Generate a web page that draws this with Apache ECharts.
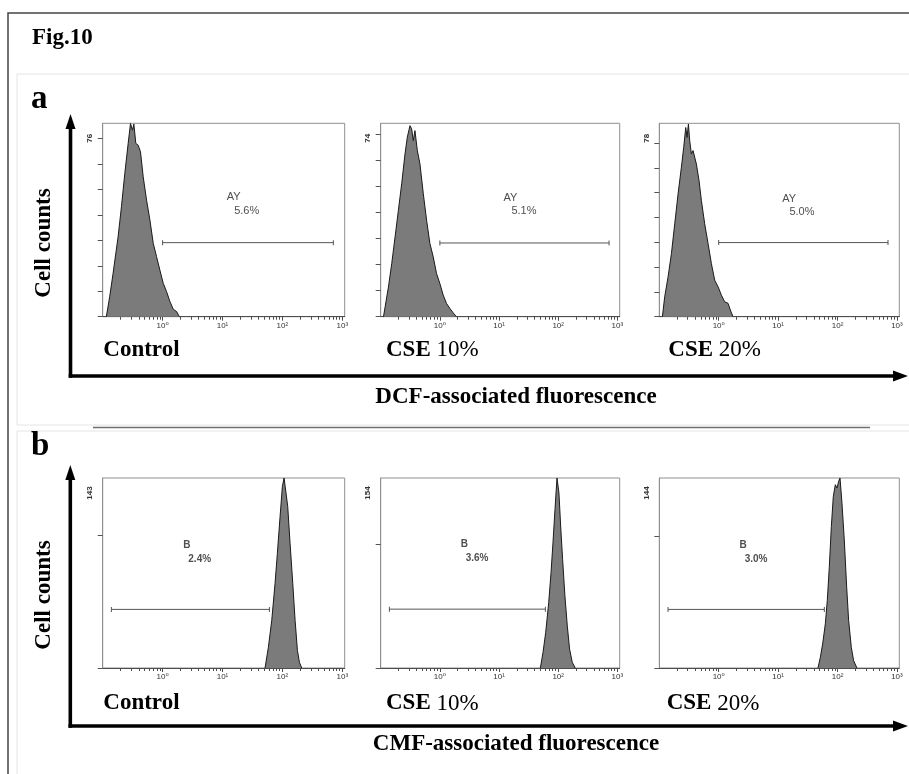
<!DOCTYPE html>
<html><head><meta charset="utf-8">
<script src="https://cdn.jsdelivr.net/npm/echarts@6/dist/echarts.min.js"></script>
<style>html,body{margin:0;padding:0;background:#fff}#c{width:909px;height:774px}</style>
</head><body><div id="c"></div>
<script>
// ---------- DATA (x values are log10 of fluorescence intensity) ----------
const figTitle = 'Fig.10';
const panelLetters = ['a', 'b'];
const yAxisTitle = 'Cell counts';
const xAxisTitles = ['DCF-associated fluorescence', 'CMF-associated fluorescence'];
const panelNames = ['Control', 'CSE 10%', 'CSE 20%'];
const decadeTicks = [0, 1, 2, 3];
const decadeLabels = ['10⁰', '10¹', '10²', '10³'];
const yMaxLabels = [[76, 74, 78], [143, 154, 144]];
const yTickSteps = [10, 100];
const gateNames = ['AY', 'B'];
const gatePercents = [['5.6%', '5.1%', '5.0%'], ['2.4%', '3.6%', '3.0%']];

const dcfControlLog = [-0.939,-0.883,-0.827,-0.743,-0.687,-0.631,-0.575,-0.536,-0.503,-0.480,-0.447,-0.408,-0.369,-0.324,-0.268,-0.212,-0.156,-0.101,-0.045,0.011,0.067,0.123,0.179,0.235,0.279];
const dcfControlCount = [0,7.9,17.0,31.4,43.2,56.3,68.1,75.9,73.3,75.7,68.1,67.4,64.8,55.0,45.8,38.0,28.8,23.6,18.3,13.1,9.8,5.9,2.9,2.0,0];
const dcfCse10Log = [-0.953,-0.925,-0.869,-0.813,-0.757,-0.701,-0.645,-0.589,-0.550,-0.505,-0.477,-0.449,-0.421,-0.381,-0.337,-0.280,-0.224,-0.168,-0.112,-0.056,0,0.056,0.112,0.168,0.224,0.280];
const dcfCse10Count = [0,3.8,11.4,20.4,30.5,40.7,50.9,62.3,68.7,73.1,71.9,67.4,71.2,63.6,58.5,47.1,36.9,28.0,22.9,16.5,12.7,8.3,5.1,3.2,1.5,0];
const dcfCse20Log = [-0.948,-0.909,-0.852,-0.796,-0.740,-0.684,-0.628,-0.589,-0.555,-0.533,-0.510,-0.488,-0.460,-0.432,-0.376,-0.331,-0.292,-0.236,-0.179,-0.123,-0.067,-0.011,0.045,0.101,0.157,0.196,0.241];
const dcfCse20Count = [0,8.0,16.1,25.4,37.5,49.5,60.3,68.3,76.3,72.3,77.7,71.0,65.6,67.0,61.6,54.9,46.9,37.5,29.5,21.4,14.7,12.1,8.7,6.0,5.4,2.7,0];

const cmfControlLog = [1.710,1.766,1.822,1.877,1.916,1.961,2.000,2.028,2.061,2.089,2.128,2.173,2.212,2.251,2.284,2.323];
const cmfControlCount = [0,15.6,35.8,63.6,86.3,114.0,136.7,143,141.7,121.6,93.8,63.6,35.8,13.1,4.3,0];
const cmfCse10Log = [1.699,1.744,1.789,1.840,1.879,1.912,1.946,1.980,2.013,2.042,2.075,2.114,2.154,2.193,2.238,2.288];
const cmfCse10Count = [0,12.7,28.8,53.0,77.3,101.5,128.4,154,141.9,115.0,88.0,58.4,34.2,15.3,4.6,0];
const cmfCse20Log = [1.671,1.711,1.750,1.795,1.828,1.862,1.896,1.929,1.963,1.991,2.019,2.042,2.075,2.114,2.154,2.187,2.232,2.271,2.327];
const cmfCse20Count = [0,8.1,18.3,33.5,51.3,76.7,107.2,130.0,138.9,136.4,141.5,144,124.9,97.0,61.5,36.1,15.7,5.6,0];

// gate markers (log10 start/end, count level)
const dcfGateLog = [[0, 2.85], [0, 2.86], [0, 2.85]];
const dcfGateCount = [29.1, 28.2, 29.9];
const cmfGateLog = [[-0.855, 1.783], [-0.853, 1.784], [-0.853, 1.778]];
const cmfGateCount = [44.1, 47.7, 44.4];
// gate annotation anchors: [name, percent]
const dcfGateTextLog = [[1.07, 1.195], [1.077, 1.21], [1.07, 1.19]];
const dcfGateTextCount = [[46.9, 41.6], [45.5, 40.4], [47.6, 42.3]];
const cmfGateTextLog = [[0.345, 0.429], [0.353, 0.437], [0.348, 0.437]];
const cmfGateTextCount = [[92.6, 81.7], [100.2, 88.6], [93.2, 82.3]];

// ---------- LAYOUT ----------
const colLeft = [102.7, 380.7, 659.3];
const colWidth = [242, 239, 240];
const rowTop = [123.3, 478];
const rowHeight = [193.4, 190];
const xMin = -1, xMax = 3.04;
const sans = '"Liberation Sans", "DejaVu Sans", Arial, sans-serif';
const serif = '"Liberation Serif", "Times New Roman", serif';

const hist = [
  [[dcfControlLog, dcfControlCount], [dcfCse10Log, dcfCse10Count], [dcfCse20Log, dcfCse20Count]],
  [[cmfControlLog, cmfControlCount], [cmfCse10Log, cmfCse10Count], [cmfCse20Log, cmfCse20Count]]
];
const gateLog = [dcfGateLog, cmfGateLog], gateCount = [dcfGateCount, cmfGateCount];
const gTextLog = [dcfGateTextLog, cmfGateTextLog], gTextCount = [dcfGateTextCount, cmfGateTextCount];
const gateFont = [{size: 11, weight: 'normal'}, {size: 10, weight: 'bold'}];

const minorTicks = [];
for (let n = -1; n < 3; n++) for (let k = 2; k < 10; k++) minorTicks.push(n + Math.log10(k));

const grids = [], xAxes = [], yAxes = [], series = [];
for (let r = 0; r < 2; r++) {
  for (let c = 0; c < 3; c++) {
    const i = r * 3 + c;
    grids.push({left: colLeft[c], top: rowTop[r], width: colWidth[c], height: rowHeight[r],
      show: true, borderColor: '#8f8f8f', borderWidth: 1, containLabel: false});
    xAxes.push({gridIndex: i, type: 'value', min: xMin, max: xMax, position: 'bottom',
      axisLine: {onZero: false, lineStyle: {color: '#4d4d4d', width: 1}},
      axisTick: {customValues: decadeTicks, length: 4, lineStyle: {color: '#4d4d4d'}},
      axisLabel: {customValues: decadeTicks, fontSize: 8, color: '#333', margin: 5, fontFamily: sans,
        formatter: v => decadeLabels[decadeTicks.indexOf(Math.round(v))] || ''},
      splitLine: {show: false}});
    xAxes.push({gridIndex: i, type: 'value', min: xMin, max: xMax, position: 'bottom',
      axisLine: {show: false, onZero: false},
      axisTick: {customValues: minorTicks, length: 3, lineStyle: {color: '#4d4d4d'}},
      axisLabel: {show: false}, splitLine: {show: false}});
    const yMax = yMaxLabels[r][c];
    const ticks = [];
    for (let v = 0; v < yMax - 0.001; v += yTickSteps[r]) ticks.push(v);
    yAxes.push({gridIndex: i, type: 'value', min: 0, max: yMax,
      axisLine: {show: true, onZero: false, lineStyle: {color: '#8f8f8f'}},
      axisTick: {customValues: ticks, length: 5, lineStyle: {color: '#555'}},
      axisLabel: {customValues: [yMax * (1 - 15 / rowHeight[r])], formatter: () => String(yMax),
        rotate: 90, fontSize: 8, fontWeight: 'bold', color: '#333', margin: 9, fontFamily: sans},
      splitLine: {show: false}});
    const [hx, hy] = hist[r][c];
    series.push({type: 'line', xAxisIndex: i * 2, yAxisIndex: i, symbol: 'none', silent: true,
      data: hx.map((x, k) => [x, hy[k]]),
      lineStyle: {color: '#1a1a1a', width: 1}, areaStyle: {color: '#7b7b7b', opacity: 1}, z: 2});
    const g = gateLog[r][c], gy = gateCount[r][c];
    series.push({type: 'line', xAxisIndex: i * 2, yAxisIndex: i, silent: true,
      data: [[g[0], gy], [g[1], gy]], symbol: 'rect', symbolSize: [1, 5], showSymbol: true,
      itemStyle: {color: '#555'}, lineStyle: {color: '#555', width: 1}, z: 3});
    const tl = gTextLog[r][c], tc = gTextCount[r][c];
    series.push({type: 'scatter', xAxisIndex: i * 2, yAxisIndex: i, silent: true,
      symbolSize: 0.01, itemStyle: {color: 'transparent'},
      data: [{value: [tl[0], tc[0]], name: gateNames[r]}, {value: [tl[1], tc[1]], name: gatePercents[r][c]}],
      label: {show: true, position: 'right', distance: 0, formatter: '{b}', fontSize: gateFont[r].size,
        fontWeight: gateFont[r].weight, color: '#222', fontFamily: sans}, z: 4});
  }
}

// ---------- DECORATION ----------
const graphic = [];
graphic.push({type: 'polyline', shape: {points: [[915, 13], [8, 13], [8, 780]]}, style: {stroke: '#444', lineWidth: 1.5, fill: 'none'}});
graphic.push({type: 'polyline', shape: {points: [[915, 74], [17, 74], [17, 425], [915, 425]]}, style: {stroke: '#e4e4e4', lineWidth: 1, fill: 'none'}});
graphic.push({type: 'polyline', shape: {points: [[915, 431], [17, 431], [17, 780]]}, style: {stroke: '#e4e4e4', lineWidth: 1, fill: 'none'}});
graphic.push({type: 'line', shape: {x1: 93, y1: 427.5, x2: 870, y2: 427.5}, style: {stroke: '#707070', lineWidth: 1.5}});

function bigArrows(axX, topTip, axY) {
  graphic.push({type: 'line', shape: {x1: axX, y1: topTip + 12, x2: axX, y2: axY + 1.8}, style: {stroke: '#000', lineWidth: 3.6}});
  graphic.push({type: 'polygon', shape: {points: [[axX, topTip], [axX - 5, topTip + 15], [axX + 5, topTip + 15]]}, style: {fill: '#000'}});
  graphic.push({type: 'line', shape: {x1: axX - 1.8, y1: axY, x2: 896, y2: axY}, style: {stroke: '#000', lineWidth: 3.6}});
  graphic.push({type: 'polygon', shape: {points: [[908, axY], [893, axY - 5.5], [893, axY + 5.5]]}, style: {fill: '#000'}});
}
bigArrows(70.5, 114, 376);
bigArrows(70.3, 465, 726);

function txt(text, x, y, size, opts) {
  graphic.push(Object.assign({type: 'text', x: x, y: y, style: Object.assign({text: text, fontSize: size,
    fontWeight: 'bold', fontFamily: serif, fill: '#000', align: 'left', verticalAlign: 'middle'}, (opts && opts.style) || {})},
    (opts && opts.el) || {}));
}
txt(figTitle, 32, 38.5, 23);
txt(panelLetters[0], 31, 99, 33);
txt(panelLetters[1], 31, 446, 33);
txt(yAxisTitle, 44, 243, 23, {style: {align: 'center'}, el: {rotation: Math.PI / 2}});
txt(yAxisTitle, 44, 595, 23, {style: {align: 'center'}, el: {rotation: Math.PI / 2}});
txt(xAxisTitles[0], 516, 397, 23, {style: {align: 'center'}});
txt(xAxisTitles[1], 516, 744, 23, {style: {align: 'center'}});

const nameLeft = [[103.3, 386, 668.3], [103.3, 386, 666.7]];
const nameY = [350, 703.5];
for (let r = 0; r < 2; r++) {
  for (let c = 0; c < 3; c++) {
    const nm = panelNames[c];
    const sp = nm.indexOf(' ');
    const rich = {
      b: {fontWeight: 'bold', fontSize: 23, fontFamily: serif, fill: '#000'},
      n: {fontWeight: 'normal', fontSize: 23, fontFamily: serif, fill: '#000'}
    };
    const t = sp < 0 ? '{b|' + nm + '}' : '{b|' + nm.slice(0, sp) + '}{n|' + nm.slice(sp) + '}';
    graphic.push({type: 'text', x: nameLeft[r][c], y: nameY[r],
      style: {text: t, rich: rich, align: 'left', verticalAlign: 'middle', fontSize: 23, fontFamily: serif}});
  }
}

const chart = echarts.init(document.getElementById('c'), null, {renderer: 'canvas'});
chart.setOption({
  animation: false,
  backgroundColor: '#fff',
  grid: grids, xAxis: xAxes, yAxis: yAxes, series: series,
  graphic: graphic
});
</script>
</body></html>
